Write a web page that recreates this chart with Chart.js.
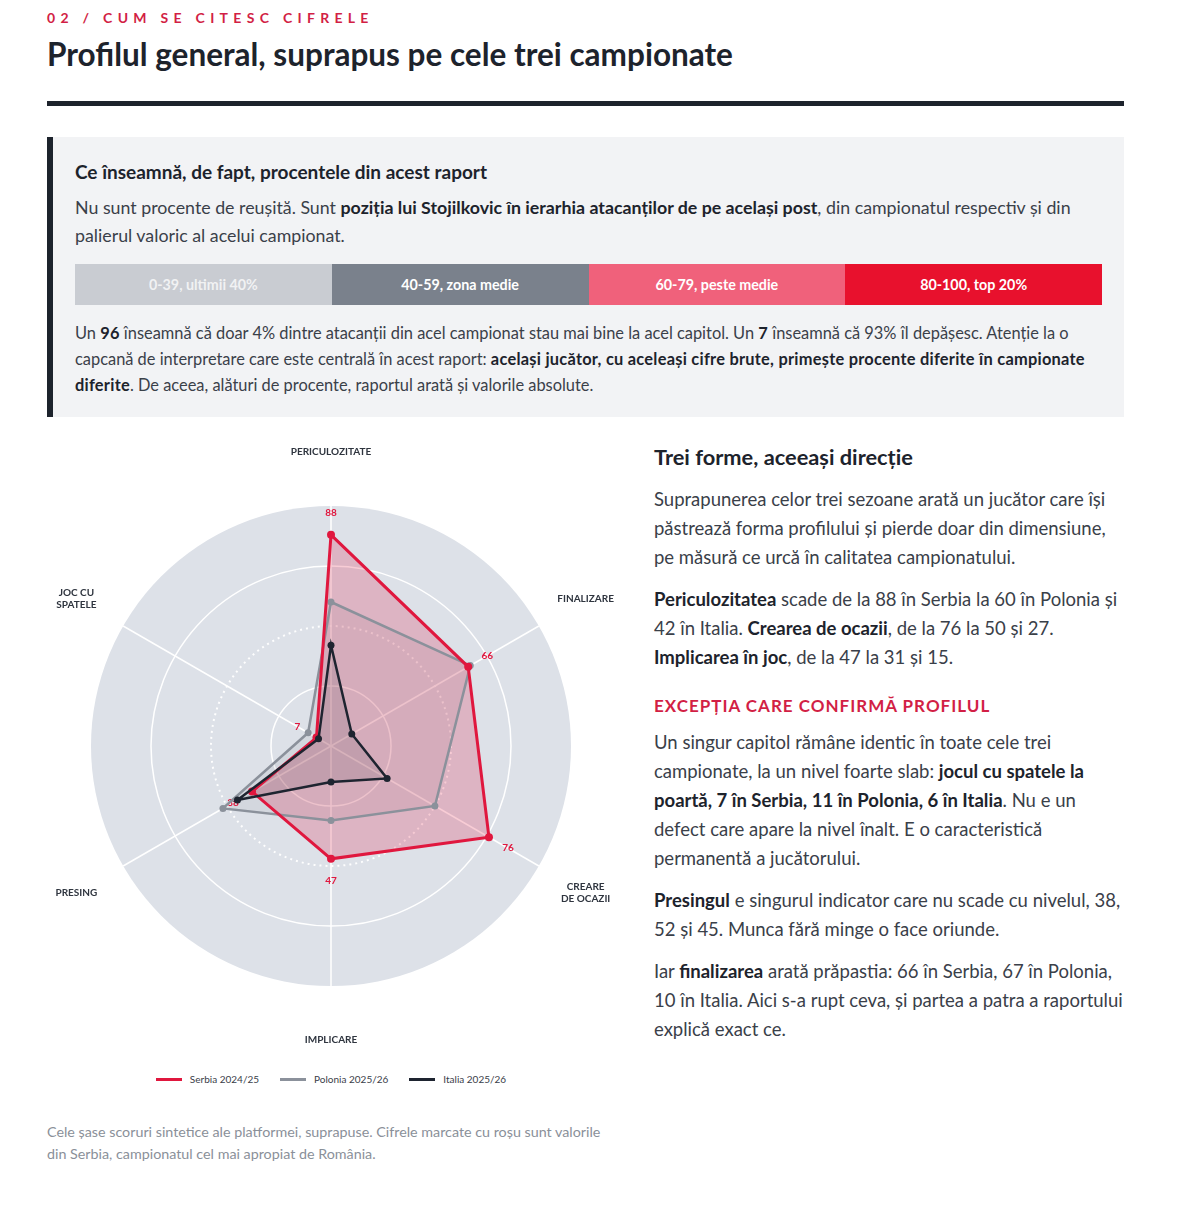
<!DOCTYPE html>
<html lang="ro">
<head>
<meta charset="utf-8">
<title>Profilul general</title>
<script src="https://cdn.jsdelivr.net/npm/chart.js@4.4.1/dist/chart.umd.min.js"></script>
<style>
  html, body { margin: 0; padding: 0; background: #fff; }
  body { width: 1200px; height: 1207px; position: relative; font-family: Lato, 'Open Sans', sans-serif; color: #3a4049; overflow: hidden; }
  .eyebrow { position: absolute; left: 47px; top: 9px; font-size: 14px; font-weight: 700; letter-spacing: 5.3px; color: #d21f45; }
  h1 { position: absolute; left: 47px; top: 35px; margin: 0; font-size: 31.5px; font-weight: 700; color: #1d232c; letter-spacing: 0; }
  .rule { position: absolute; left: 47px; top: 101px; width: 1077px; height: 5px; background: #1d232c; }
  .box { position: absolute; left: 47px; top: 137px; width: 1077px; height: 280px; background: #f2f3f5; box-sizing: border-box; border-left: 6px solid #1d232c; padding: 22px 22px 0 22px; }
  .box h3 { margin: 0; font-size: 19px; font-weight: 700; color: #1d232c; line-height: 26px; }
  .box p { margin: 0; font-size: 16.4px; line-height: 28px; color: #3a4049; }
  .box p.first { margin-top: 8px; font-size: 17.8px; }
  .box p.second { line-height: 26px; margin-top: 15px; }
  .box p.second b { letter-spacing: 0.25px; }
  .box b { color: #1d232c; }
  .scale { display: flex; margin-top: 15px; height: 41px; }
  .scale div { flex: 1; display: flex; align-items: center; justify-content: center; font-size: 14.3px; font-weight: 700; color: #fff; }
  .chartwrap { position: absolute; left: 47px; top: 430px; width: 568px; height: 640px; }
  .legend { position: absolute; left: 47px; top: 1073px; width: 568px; display: flex; justify-content: center; gap: 21px; font-size: 10px; color: #3a4049; }
  .legend span { display: flex; align-items: center; }
  .legend i { display: inline-block; width: 26px; height: 3px; margin-right: 8px; }
  .caption { position: absolute; left: 47px; top: 1121px; width: 565px; font-size: 14.3px; line-height: 22px; color: #8a9099; margin: 0; }
  .side { position: absolute; left: 654px; top: 441px; width: 472px; }
  .side h2 { margin: 0 0 12px 0; font-size: 21.8px; line-height: 32px; font-weight: 700; color: #1d232c; }
  .side p { margin: 0 0 13px 0; font-size: 18.5px; line-height: 29px; color: #3a4049; }
  .side b { color: #1d232c; }
  .side h4 { margin: 22px 0 10px 0; font-size: 17px; font-weight: 700; letter-spacing: 1px; color: #d21f45; line-height: 24px; }
</style>
</head>
<body>
<div class="eyebrow">02 / CUM SE CITESC CIFRELE</div>
<h1>Profilul general, suprapus pe cele trei campionate</h1>
<div class="rule"></div>

<div class="box">
  <h3>Ce înseamnă, de fapt, procentele din acest raport</h3>
  <p class="first">Nu sunt procente de reușită. Sunt <b>poziția lui Stojilkovic în ierarhia atacanților de pe același post</b>, din campionatul respectiv și din palierul valoric al acelui campionat.</p>
  <div class="scale" id="scale"></div>
  <p class="second">Un <b>96</b> înseamnă că doar 4% dintre atacanții din acel campionat stau mai bine la acel capitol. Un <b>7</b> înseamnă că 93% îl depășesc. Atenție la o capcană de interpretare care este centrală în acest raport: <b>același jucător, cu aceleași cifre brute, primește procente diferite în campionate diferite</b>. De aceea, alături de procente, raportul arată și valorile absolute.</p>
</div>

<div class="chartwrap"><canvas id="radarChart"></canvas></div>
<div class="legend" id="legend"></div>
<p class="caption">Cele șase scoruri sintetice ale platformei, suprapuse. Cifrele marcate cu roșu sunt valorile din Serbia, campionatul cel mai apropiat de România.</p>

<div class="side">
  <h2>Trei forme, aceeași direcție</h2>
  <p>Suprapunerea celor trei sezoane arată un jucător care își păstrează forma profilului și pierde doar din dimensiune, pe măsură ce urcă în calitatea campionatului.</p>
  <p><b>Periculozitatea</b> scade de la 88 în Serbia la 60 în Polonia și 42 în Italia. <b>Crearea de ocazii</b>, de la 76 la 50 și 27. <b>Implicarea în joc</b>, de la 47 la 31 și 15.</p>
  <h4>EXCEPȚIA CARE CONFIRMĂ PROFILUL</h4>
  <p>Un singur capitol rămâne identic în toate cele trei campionate, la un nivel foarte slab: <b>jocul cu spatele la poartă, 7 în Serbia, 11 în Polonia, 6 în Italia</b>. Nu e un defect care apare la nivel înalt. E o caracteristică permanentă a jucătorului.</p>
  <p><b>Presingul</b> e singurul indicator care nu scade cu nivelul, 38, 52 și 45. Munca fără minge o face oriunde.</p>
  <p>Iar <b>finalizarea</b> arată prăpastia: 66 în Serbia, 67 în Polonia, 10 în Italia. Aici s-a rupt ceva, și partea a patra a raportului explică exact ce.</p>
</div>

<script>
// data
const axisLabels = [['PERICULOZITATE'], ['FINALIZARE'], ['CREARE', 'DE OCAZII'], ['IMPLICARE'], ['PRESING'], ['JOC CU', 'SPATELE']];
const seriesNames = ['Serbia 2024/25', 'Polonia 2025/26', 'Italia 2025/26'];
const serbia = [88, 66, 76, 47, 38, 7];
const polonia = [60, 67, 50, 31, 52, 11];
const italia = [42, 10, 27, 15, 45, 6];
const scaleBands = ['0-39, ultimii 40%', '40-59, zona medie', '60-79, peste medie', '80-100, top 20%'];

const RED = '#e0173e';
const GREY = '#8b919b';
const DARK = '#1e2430';

const bandColors = ['#c9ccd2', '#7a818c', '#f0617b', '#e8112d'];
const bandText = ['rgba(255,255,255,0.75)', '#fff', '#fff', '#fff'];
const scaleEl = document.getElementById('scale');
scaleBands.forEach((t, i) => {
  const d = document.createElement('div');
  d.textContent = t;
  d.style.background = bandColors[i];
  d.style.color = bandText[i];
  scaleEl.appendChild(d);
});

const legendEl = document.getElementById('legend');
[RED, GREY, DARK].forEach((c, i) => {
  const s = document.createElement('span');
  s.innerHTML = '<i style="background:' + c + '"></i>' + seriesNames[i];
  legendEl.appendChild(s);
});

// axis names far outside the disc + red Serbia values next to the points
const radarText = {
  id: 'radarText',
  beforeDatasetsDraw(chart) {
    const scale = chart.scales.r;
    const ctx = chart.ctx;
    ctx.save();
    ctx.fillStyle = RED;
    ctx.font = '700 10px Lato';
    ctx.textAlign = 'center';
    ctx.textBaseline = 'middle';
    serbia.forEach((v, i) => {
      const d = scale.getDistanceFromCenterForValue(v) + 22;
      const p = scale.getPointPosition(i, d);
      ctx.fillText(String(v), p.x, p.y);
    });
    ctx.restore();
  },
  afterDraw(chart) {
    const scale = chart.scales.r;
    const ctx = chart.ctx;
    ctx.save();
    ctx.fillStyle = '#2f353f';
    ctx.font = '700 10px Lato';
    ctx.textAlign = 'center';
    ctx.textBaseline = 'middle';
    axisLabels.forEach((lines, i) => {
      const p = scale.getPointPosition(i, scale.drawingArea + 54);
      const top = p.y - (lines.length - 1) * 6;
      lines.forEach((l, k) => ctx.fillText(l, p.x, top + k * 12));
    });
    ctx.restore();
  }
};

Chart.defaults.font.family = 'Lato';

new Chart(document.getElementById('radarChart'), {
  type: 'radar',
  data: {
    labels: axisLabels.map(l => l.join(' ')),
    datasets: [
      {
        label: seriesNames[0],
        data: serbia,
        order: 1,
        borderColor: RED,
        backgroundColor: 'rgba(224, 23, 62, 0.22)',
        borderWidth: 3,
        pointRadius: 4,
        pointBackgroundColor: RED,
        pointBorderWidth: 0,
      },
      {
        label: seriesNames[1],
        data: polonia,
        order: 2,
        borderColor: GREY,
        backgroundColor: 'rgba(139, 145, 155, 0.12)',
        borderWidth: 2.5,
        pointRadius: 3.5,
        pointBackgroundColor: GREY,
        pointBorderWidth: 0,
      },
      {
        label: seriesNames[2],
        data: italia,
        order: 0,
        borderColor: DARK,
        backgroundColor: 'rgba(30, 36, 48, 0.1)',
        borderWidth: 2.5,
        pointRadius: 3.5,
        pointBackgroundColor: DARK,
        pointBorderWidth: 0,
      },
    ],
  },
  options: {
    responsive: true,
    maintainAspectRatio: false,
    animation: false,
    layout: { padding: { left: 44, right: 44, top: 76, bottom: 84 } },
    plugins: {
      legend: { display: false },
      tooltip: { enabled: false },
      filler: { drawTime: 'beforeDatasetsDraw' },
    },
    elements: { line: { tension: 0 } },
    scales: {
      r: {
        min: 0,
        max: 100,
        backgroundColor: '#dde1e8',
        ticks: { display: false, stepSize: 25 },
        pointLabels: { display: false },
        angleLines: { color: '#ffffff', lineWidth: 1.5 },
        grid: {
          circular: true,
          color: (c) => (c.tick && c.tick.value === 100 ? 'rgba(0,0,0,0)' : (c.tick && c.tick.value === 50 ? 'rgba(255,255,255,0.95)' : '#ffffff')),
          lineWidth: (c) => (c.tick && c.tick.value === 50 ? 2 : 1.5),
        },
        border: {
          dash: (c) => (c.tick && c.tick.value === 50 ? [2, 4] : []),
        },
      },
    },
  },
  plugins: [radarText],
});
</script>
</body>
</html>
